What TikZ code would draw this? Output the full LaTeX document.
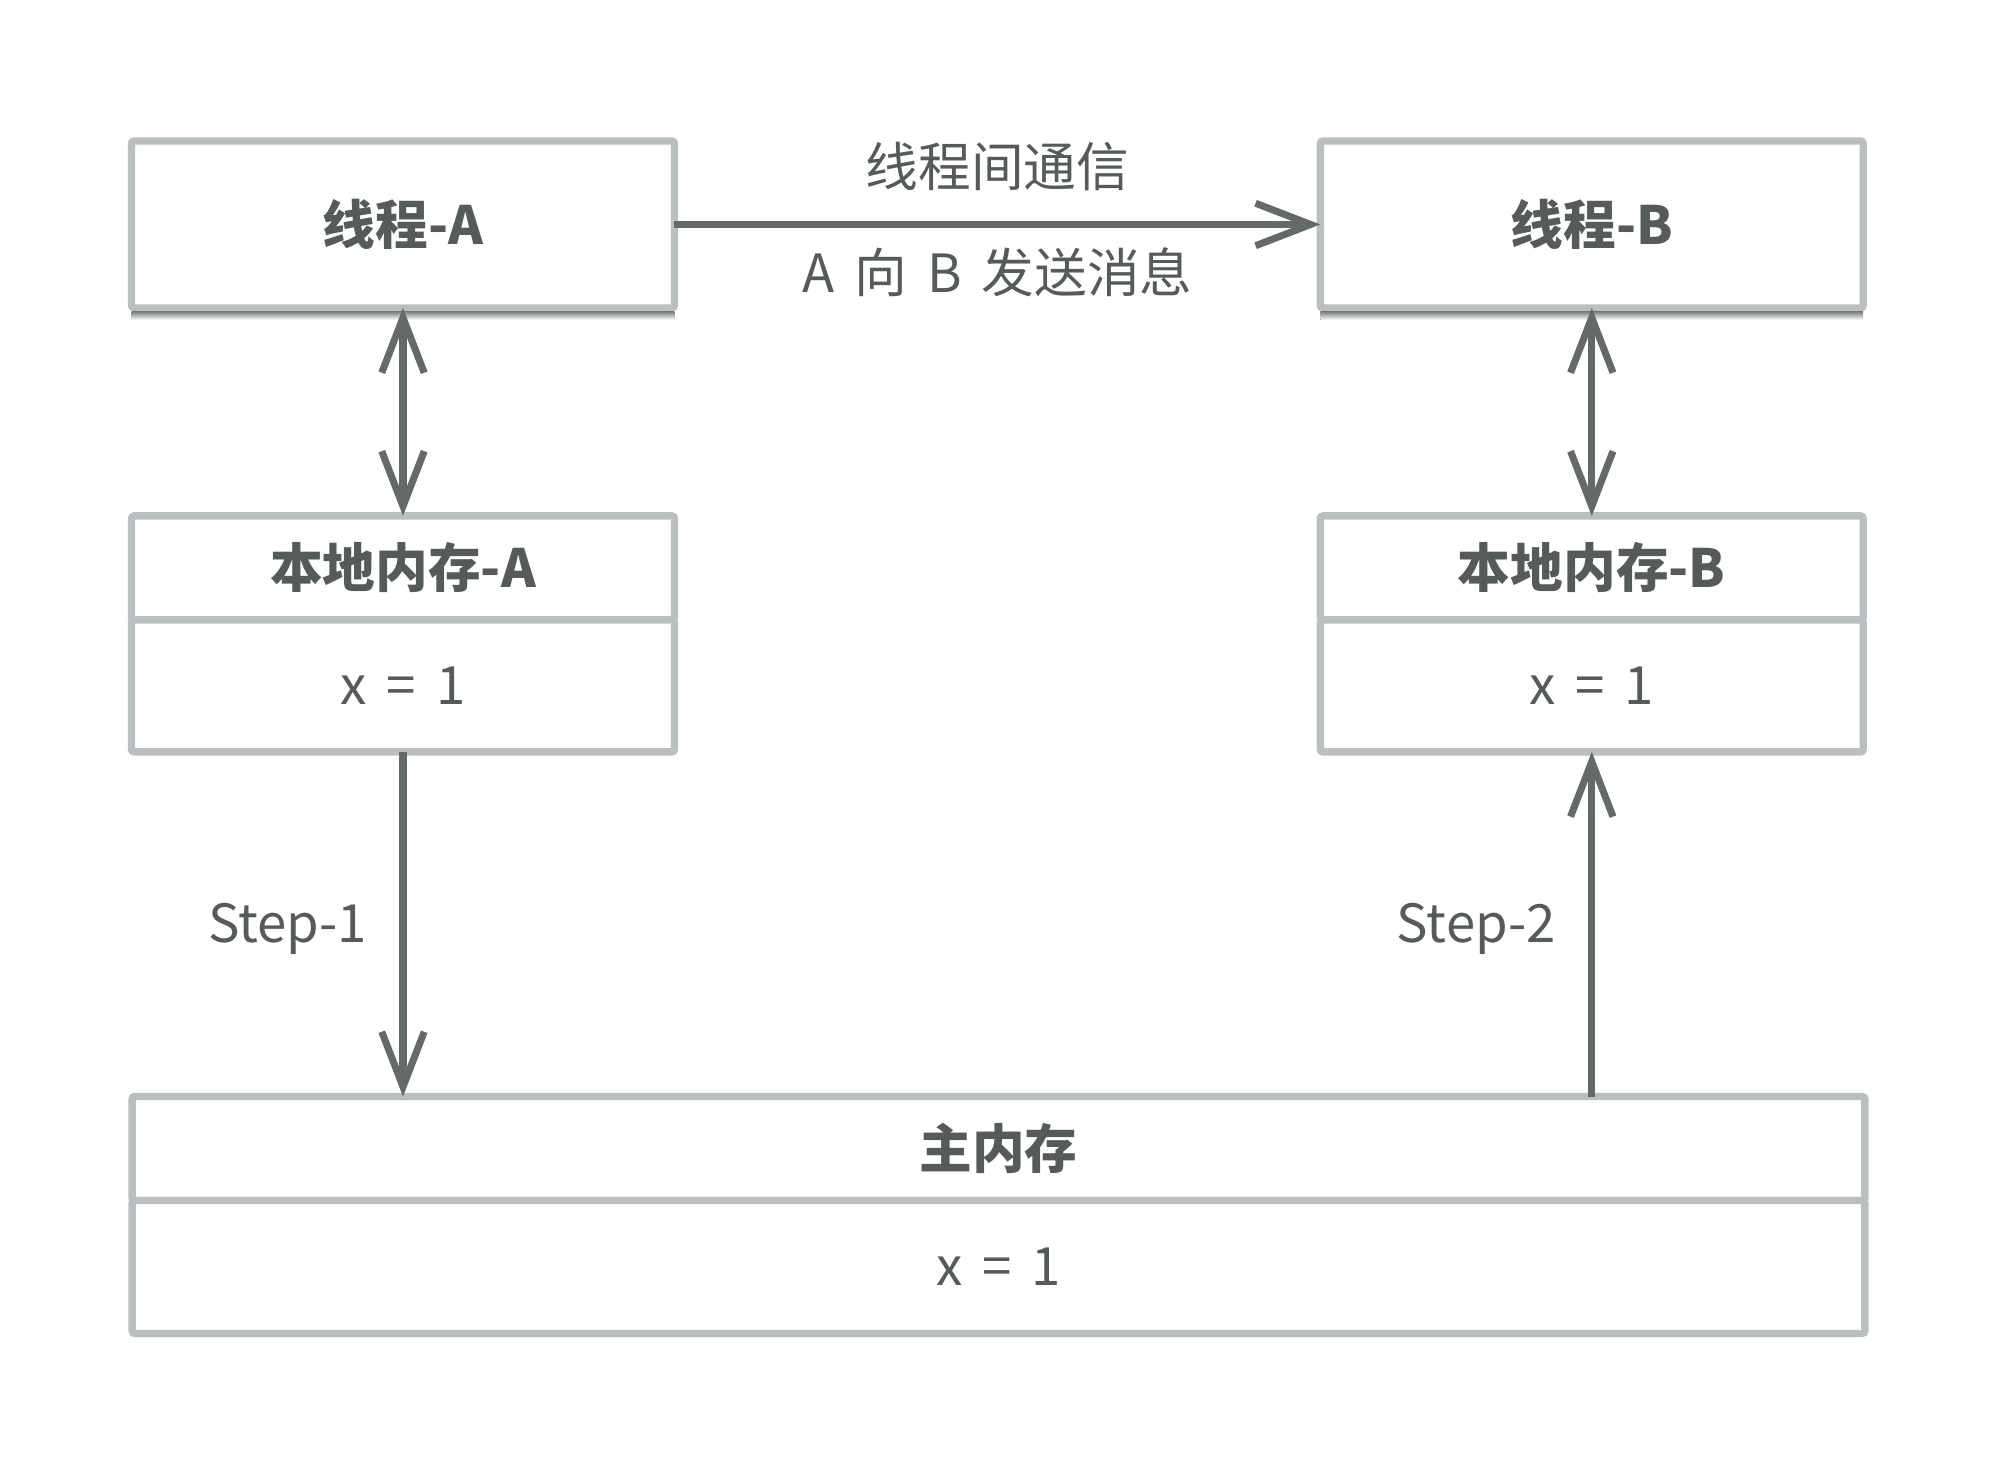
\documentclass[tikz,border=0pt]{standalone}
\usepackage{fontspec}
\setmainfont{Noto Sans CJK SC}
\usepackage{xcolor}
\usetikzlibrary{arrows.meta, positioning}
\definecolor{frame}{HTML}{BABFC1}
\definecolor{wire}{HTML}{646969}
\definecolor{ink}{HTML}{555A5B}
\definecolor{shade}{HTML}{ECECEC}
\newcommand{\wsp}{\hspace{0.38em}}

\begin{document}
\begin{tikzpicture}[
    x=0.02cm, y=-0.02cm,
    box/.style={rectangle, rounded corners=1.5pt, draw=frame, line width=4.2pt, fill=white,
                text=ink, minimum width=10.86cm, outer sep=0pt,
                font=\fontsize{30}{36}\selectfont},
    thread/.style={box, minimum height=3.34cm, font=\fontsize{30}{36}\selectfont\bfseries},
    head/.style={box, minimum height=2.08cm, font=\fontsize{30}{36}\selectfont\bfseries},
    cell/.style={box, minimum height=2.64cm},
    lbl/.style={text=ink, inner sep=0pt, font=\fontsize{30}{36}\selectfont},
    arrow/.style={-{Straight Barb[length=1.1cm, width=0.85cm]}, line width=4pt, color=wire},
    twoway/.style={arrow, {Straight Barb[length=1.1cm, width=0.85cm]}-{Straight Barb[length=1.1cm, width=0.85cm]}}
]
\useasboundingbox (0,0) rectangle (1995,1462);

% threads
\node[thread] (threadA) at (403,224.5) {线程-A};
\node[thread, right=12.92cm of threadA] (threadB) {线程-B};
\fill[shade] ([yshift=-0.075cm]threadA.south west) rectangle ([yshift=-0.24cm]threadA.south east);
\fill[shade] ([yshift=-0.075cm]threadB.south west) rectangle ([yshift=-0.24cm]threadB.south east);

% local memory
\node[head, below=4.16cm of threadA] (localA) {本地内存-A};
\node[cell, below=0pt of localA] (valA) {x\wsp{}=\wsp{}1};
\node[head, below=4.16cm of threadB] (localB) {本地内存-B};
\node[cell, below=0pt of localB] (valB) {x\wsp{}=\wsp{}1};

% main memory
\node[head, minimum width=34.66cm] (mainH) at (998.5,1148.5) {主内存};
\node[cell, minimum width=34.66cm, minimum height=2.66cm, below=0pt of mainH] (mainV) {x\wsp{}=\wsp{}1};

\draw[arrow] (threadA) -- node[lbl, above=0.6cm] {线程间通信}
    node[lbl, below=0.4cm] {A\wsp{}向\wsp{}B\wsp{}发送消息} (threadB);
\draw[twoway] (threadA) -- (localA);
\draw[twoway] (threadB) -- (localB);
\draw[arrow] (valA) -- node[lbl, left=0.65cm, yshift=-0.1cm] {Step-1} (valA |- mainH.north);
\draw[arrow] (valB |- mainH.north) -- node[lbl, left=0.65cm, yshift=-0.1cm] {Step-2} (valB);

\end{tikzpicture}
\end{document}
